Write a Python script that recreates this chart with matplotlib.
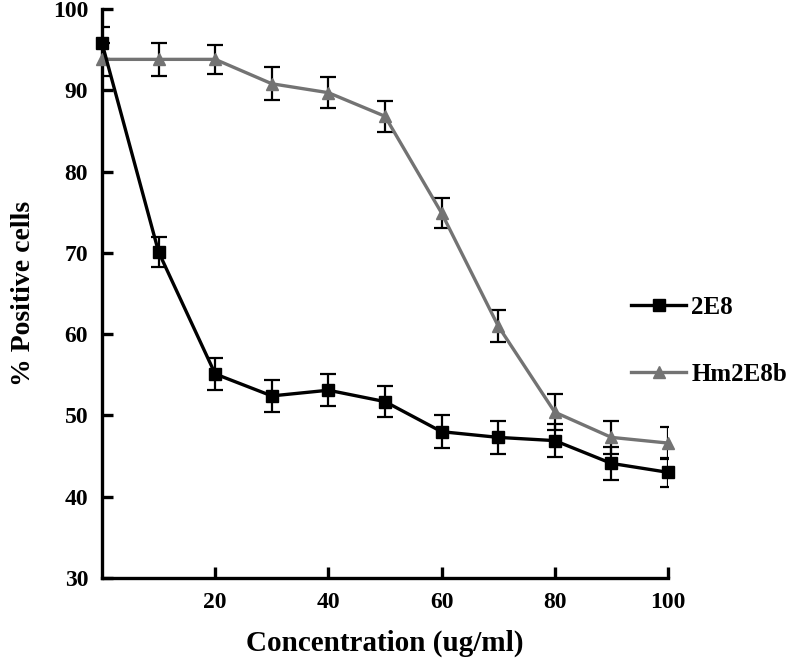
import matplotlib.pyplot as plt
import numpy as np

plt.rcParams['font.family'] = 'Liberation Serif'
plt.rcParams['font.weight'] = 'bold'

conc = [0, 10, 20, 30, 40, 50, 60, 70, 80, 90, 100]
e2e8 = [95.8, 70.1, 55.1, 52.4, 53.1, 51.7, 48.0, 47.3, 46.9, 44.1, 43.0]
e2e8_err = [2.0, 1.8, 2.0, 2.0, 2.0, 1.9, 2.0, 2.0, 2.0, 2.0, 1.8]
hm2e8b = [93.8, 93.8, 93.8, 90.8, 89.7, 86.8, 74.9, 61.0, 50.4, 47.3, 46.6]
hm2e8b_err = [2.0, 2.0, 1.8, 2.0, 1.9, 1.9, 1.9, 2.0, 2.2, 2.0, 2.0]

gray = '#737373'

fig = plt.figure(figsize=(7.92, 6.59), dpi=100)
ax = fig.add_axes([0.1288, 0.1229, 0.7146, 0.8635])

# error bars first, lines on top
ax.errorbar(conc, hm2e8b, yerr=hm2e8b_err, fmt='none', ecolor='black',
            elinewidth=1.6, capsize=6, capthick=1.6, zorder=2)
ax.errorbar(conc, e2e8, yerr=e2e8_err, fmt='none', ecolor='black',
            elinewidth=1.6, capsize=6, capthick=1.6, zorder=2)

ax.plot(conc, e2e8, '-s', color='black', linewidth=2.4, markersize=8,
        label='2E8', zorder=4, clip_on=False)
ax.plot(conc, hm2e8b, '-^', color=gray, linewidth=2.4, markersize=8,
        label='Hm2E8b', zorder=3, clip_on=False)

ax.set_xlim(0, 100)
ax.set_ylim(30, 100)
ax.set_xticks([20, 40, 60, 80, 100])
ax.set_yticks(np.arange(30, 101, 10))

for s in ['top', 'right']:
    ax.spines[s].set_visible(False)
for s in ['left', 'bottom']:
    ax.spines[s].set_linewidth(2.4)

ax.tick_params(direction='in', length=8, width=2.4, labelsize=17, pad=10)

ax.set_xlabel('Concentration (ug/ml)', fontsize=21, fontweight='bold', labelpad=12)
ax.set_ylabel('% Positive cells', fontsize=20, fontweight='bold', labelpad=12)

fig.legend(loc='upper left', bbox_to_anchor=(0.797, 0.551), frameon=False,
           handlelength=2.2, handletextpad=0.2, labelspacing=1.75,
           borderpad=0, borderaxespad=0, prop={'weight': 'bold', 'size': 18})

fig.savefig('out.png', dpi=100)
